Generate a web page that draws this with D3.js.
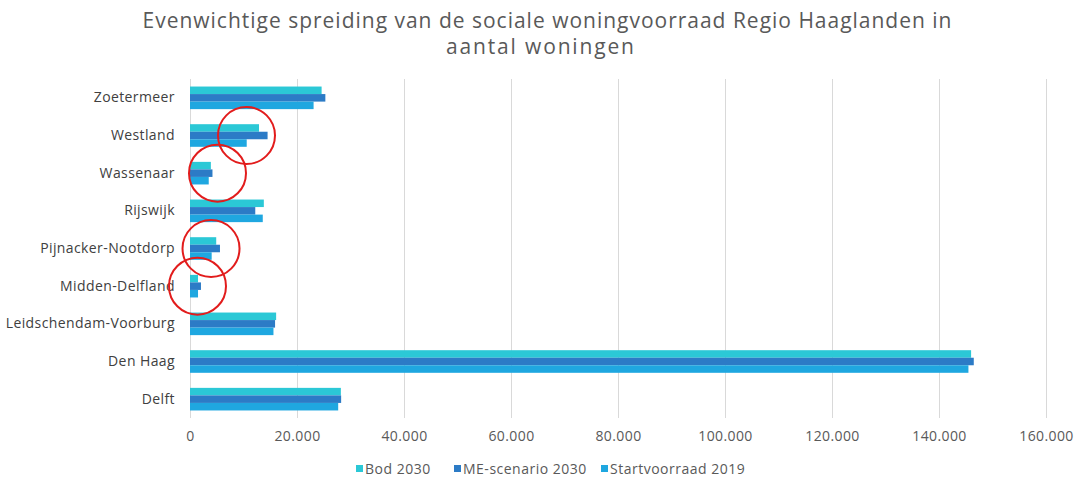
<!DOCTYPE html>
<html><head><meta charset="utf-8">
<script src="https://cdn.jsdelivr.net/npm/d3@7"></script>
<style>html,body{margin:0;padding:0;background:#fff;}svg{display:block;}</style>
</head><body>
<svg id="chart" width="1082" height="480"></svg>
<script>
const categories = ["Zoetermeer","Westland","Wassenaar","Rijswijk","Pijnacker-Nootdorp","Midden-Delfland","Leidschendam-Voorburg","Den Haag","Delft"];
const seriesNames = ["Bod 2030","ME-scenario 2030","Startvoorraad 2019"];
const bod2030 = [24600,12900,3900,13800,4900,1500,16100,146000,28200];
const me2030 = [25300,14500,4200,12200,5600,2050,15900,146500,28250];
const start2019 = [23100,10600,3500,13600,4050,1500,15600,145500,27700];
const xTicks = [0,20000,40000,60000,80000,100000,120000,140000,160000];
const highlighted = ["Westland","Wassenaar","Pijnacker-Nootdorp","Midden-Delfland"];
const highlightCenter = [10560,5140,3930,1400];
const titleLines = ["Evenwichtige spreiding van de sociale woningvoorraad Regio Haaglanden in","aantal woningen"];
const colors = ["#2bc8d6","#2c7bc6","#1fa7e0"];
const seriesValues = [bod2030, me2030, start2019];

const svg = d3.select("#chart");
const font = "'Open Sans', 'DejaVu Sans', sans-serif";
const m = {left:190, right:1046, top:79, bottom:418};

const x = d3.scaleLinear().domain([0,160000]).range([m.left, m.right]);
const y = d3.scaleBand().domain(categories).range([m.top, m.bottom]).paddingInner(0.4).paddingOuter(0.2);
const yInner = d3.scaleBand().domain(seriesNames).range([0, y.bandwidth()]);

// gridlines
svg.append("g").selectAll("line").data(xTicks).join("line")
  .attr("x1", d=>x(d)+0.5).attr("x2", d=>x(d)+0.5)
  .attr("y1", m.top).attr("y2", m.bottom)
  .attr("stroke", "#d9d9d9").attr("stroke-width", 1);

// x axis labels
const xAxis = d3.axisBottom(x).tickValues(xTicks).tickSize(0).tickPadding(0)
  .tickFormat(d => d3.format(",")(d).replace(/,/g, "."));
const gx = svg.append("g").attr("transform", `translate(0,${m.bottom+13})`).call(xAxis);
gx.select(".domain").remove();
gx.selectAll("text").attr("font-family", font).attr("font-size", 14).attr("letter-spacing", 0.4).attr("fill", "#595959");

// y axis labels
const yAxis = d3.axisLeft(y).tickSize(0).tickPadding(15);
const gy = svg.append("g").attr("transform", `translate(${m.left},0)`).call(yAxis);
gy.select(".domain").remove();
gy.selectAll("text").attr("font-family", font).attr("font-size", 14).attr("letter-spacing", 0.4).attr("fill", "#404040");

// bars
const rows = categories.map((c,i)=>({cat:c, vals: seriesNames.map((s,j)=>({s, v: seriesValues[j][i], j}))}));
const g = svg.append("g").selectAll("g").data(rows).join("g")
  .attr("transform", d=>`translate(0,${y(d.cat)})`);
g.selectAll("rect").data(d=>d.vals).join("rect")
  .attr("x", x(0)).attr("y", d=>yInner(d.s))
  .attr("width", d=>x(d.v)-x(0)).attr("height", yInner.bandwidth())
  .attr("fill", d=>colors[d.j]);

// red circles
svg.append("g").selectAll("circle").data(highlighted.map((c,i)=>({c, v: highlightCenter[i]}))).join("circle")
  .attr("cx", d=>x(d.v)).attr("cy", d=>y(d.c)+y.bandwidth()/2)
  .attr("r", 28.5).attr("fill", "none").attr("stroke", "#e21c1c").attr("stroke-width", 2);

// title
svg.append("text").attr("text-anchor","middle").attr("font-family", font)
  .attr("font-size", 21).attr("fill", "#595959")
  .attr("x", 547).attr("y", 28).attr("textLength", 809).attr("lengthAdjust", "spacing").text(titleLines[0]);
svg.append("text").attr("text-anchor","middle").attr("font-family", font)
  .attr("font-size", 21).attr("fill", "#595959")
  .attr("x", 540).attr("y", 54).attr("textLength", 188).attr("lengthAdjust", "spacing").text(titleLines[1]);

// legend
const legendX = [356, 454, 601];
const lg = svg.append("g").selectAll("g").data(seriesNames).join("g")
  .attr("transform", (d,i)=>`translate(${legendX[i]},469)`);
lg.append("rect").attr("x",0).attr("y",-4).attr("width",7).attr("height",7).attr("fill",(d,i)=>colors[i]);
lg.append("text").attr("x",9).attr("y",0).attr("dy","0.35em").attr("font-family",font).attr("font-size",14).attr("letter-spacing",0.5).attr("fill","#595959").text(d=>d);
</script>
</body></html>
